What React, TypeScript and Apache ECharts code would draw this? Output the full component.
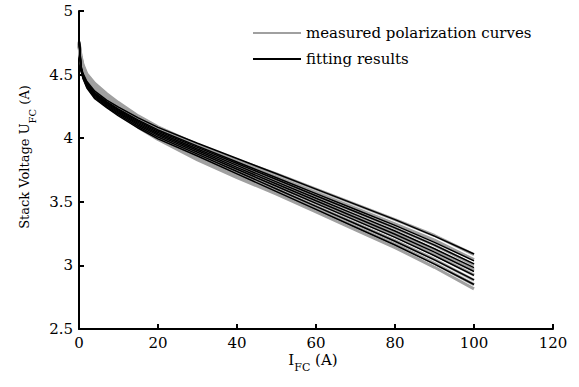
import React, { useEffect, useRef } from "react";
import * as echarts from "echarts";

// Current sample points (A)
const currents = [0, 0.5, 1, 2, 4, 7, 10, 15, 20, 30, 40, 50, 60, 70, 80, 90, 100];

// Measured polarization curves (V)
const measured1 = [4.76, 4.65, 4.58, 4.505, 4.43, 4.35, 4.28, 4.175, 4.09, 3.95, 3.83, 3.72, 3.6, 3.48, 3.36, 3.235, 3.085];
const measured2 = [4.754, 4.641, 4.571, 4.495, 4.418, 4.338, 4.268, 4.162, 4.075, 3.932, 3.809, 3.696, 3.573, 3.45, 3.327, 3.198, 3.045];
const measured3 = [4.748, 4.632, 4.562, 4.484, 4.406, 4.326, 4.256, 4.148, 4.06, 3.914, 3.788, 3.672, 3.546, 3.42, 3.294, 3.16, 3.004];
const measured4 = [4.742, 4.623, 4.553, 4.474, 4.394, 4.314, 4.244, 4.135, 4.045, 3.896, 3.767, 3.648, 3.519, 3.39, 3.261, 3.123, 2.964];
const measured5 = [4.736, 4.614, 4.544, 4.463, 4.382, 4.302, 4.232, 4.121, 4.03, 3.878, 3.746, 3.624, 3.492, 3.36, 3.228, 3.085, 2.923];
const measured6 = [4.73, 4.605, 4.535, 4.453, 4.37, 4.29, 4.22, 4.108, 4.015, 3.86, 3.725, 3.6, 3.465, 3.33, 3.195, 3.048, 2.883];
const measured7 = [4.725, 4.598, 4.528, 4.444, 4.36, 4.28, 4.21, 4.096, 4.003, 3.845, 3.708, 3.58, 3.443, 3.305, 3.168, 3.016, 2.849];
const measured8 = [4.72, 4.59, 4.52, 4.435, 4.35, 4.27, 4.2, 4.085, 3.99, 3.83, 3.69, 3.56, 3.42, 3.28, 3.14, 2.985, 2.815];

// Fitting results (V)
const fitted1 = [4.8, 4.57, 4.51, 4.445, 4.37, 4.3, 4.245, 4.16, 4.085, 3.96, 3.84, 3.72, 3.6, 3.48, 3.36, 3.23, 3.09];
const fitted2 = [4.795, 4.561, 4.501, 4.434, 4.357, 4.287, 4.229, 4.142, 4.065, 3.938, 3.813, 3.689, 3.564, 3.44, 3.315, 3.181, 3.036];
const fitted3 = [4.794, 4.557, 4.497, 4.429, 4.351, 4.281, 4.222, 4.134, 4.056, 3.928, 3.801, 3.675, 3.548, 3.422, 3.295, 3.159, 3.012];
const fitted4 = [4.791, 4.552, 4.492, 4.423, 4.343, 4.273, 4.214, 4.124, 4.045, 3.915, 3.786, 3.657, 3.528, 3.399, 3.27, 3.131, 2.982];
const fitted5 = [4.789, 4.547, 4.487, 4.416, 4.336, 4.266, 4.205, 4.114, 4.033, 3.903, 3.771, 3.64, 3.508, 3.377, 3.245, 3.104, 2.952];
const fitted6 = [4.786, 4.542, 4.482, 4.41, 4.328, 4.258, 4.196, 4.104, 4.022, 3.89, 3.756, 3.622, 3.488, 3.354, 3.22, 3.076, 2.922];
const fitted7 = [4.783, 4.536, 4.476, 4.403, 4.319, 4.249, 4.186, 4.092, 4.009, 3.875, 3.738, 3.601, 3.464, 3.327, 3.19, 3.043, 2.886];
const fitted8 = [4.78, 4.53, 4.47, 4.395, 4.31, 4.24, 4.175, 4.08, 3.995, 3.86, 3.72, 3.58, 3.44, 3.3, 3.16, 3.01, 2.85];

const measuredCurves = [measured1, measured2, measured3, measured4, measured5, measured6, measured7, measured8];
const fittedCurves = [fitted1, fitted2, fitted3, fitted4, fitted5, fitted6, fitted7, fitted8];

const measuredName = "measured polarization curves";
const fittedName = "fitting results";

const FONT = "DejaVu Serif";

export default function App() {
  const ref = useRef<HTMLDivElement>(null);

  useEffect(() => {
    if (!ref.current) return;
    const chart = echarts.init(ref.current, null, { renderer: "svg" });

    const toPairs = (vals: number[]) => currents.map((x, i) => [x, vals[i]]);

    const series: any[] = [];
    measuredCurves.forEach((c) => {
      series.push({
        name: measuredName,
        type: "line",
        data: toPairs(c),
        symbol: "none",
        lineStyle: { color: "#a0a0a0", width: 3 },
        itemStyle: { color: "#a0a0a0" },
        z: 2,
      });
    });
    fittedCurves.forEach((c) => {
      series.push({
        name: fittedName,
        type: "line",
        data: toPairs(c),
        symbol: "none",
        lineStyle: { color: "#000000", width: 1.5 },
        itemStyle: { color: "#000000" },
        z: 3,
      });
    });

    const richX = {
      a: { fontFamily: FONT, fontSize: 15, lineHeight: 14, verticalAlign: "top", fill: "#000", color: "#000" },
      b: { fontFamily: FONT, fontSize: 11, lineHeight: 12, verticalAlign: "top", padding: [10, 0, 0, 0], fill: "#000", color: "#000" },
    };
    const richY = {
      a: { fontFamily: FONT, fontSize: 13, lineHeight: 14, verticalAlign: "top", fill: "#000", color: "#000" },
      b: { fontFamily: FONT, fontSize: 10, lineHeight: 11, verticalAlign: "top", padding: [9, 0, 0, 0], fill: "#000", color: "#000" },
    };

    chart.setOption({
      animation: false,
      backgroundColor: "#ffffff",
      grid: { left: 79, right: 26, top: 11, bottom: 58, containLabel: false },
      legend: {
        data: [
          { name: measuredName, icon: "rect", itemStyle: { color: "#a0a0a0" } },
          { name: fittedName, icon: "rect", itemStyle: { color: "#000000" } },
        ],
        orient: "vertical",
        left: 253,
        top: 25,
        padding: 0,
        itemWidth: 48,
        itemHeight: 2,
        itemGap: 10,
        textStyle: { fontFamily: FONT, fontSize: 15, color: "#000", lineHeight: 16 },
        selectedMode: false,
      },
      xAxis: {
        type: "value",
        min: 0,
        max: 120,
        interval: 20,
        splitLine: { show: false },
        axisLine: { show: true, lineStyle: { color: "#000", width: 2 } },
        axisTick: { show: true, inside: true, length: 5, lineStyle: { color: "#000", width: 2 } },
        axisLabel: { fontFamily: FONT, fontSize: 15, color: "#000", margin: 7, lineHeight: 14 },
      },
      yAxis: {
        type: "value",
        min: 2.5,
        max: 5,
        interval: 0.5,
        splitLine: { show: false },
        axisLine: { show: true, lineStyle: { color: "#000", width: 2 } },
        axisTick: { show: true, inside: true, length: 5, lineStyle: { color: "#000", width: 2 } },
        axisLabel: { fontFamily: FONT, fontSize: 15, color: "#000", margin: 6 },
      },
      graphic: [
        {
          type: "text",
          x: 313,
          y: 352,
          style: {
            text: "{a|I}{b|FC}{a| (A)}",
            rich: richX,
            fill: "#000",
            align: "center",
            verticalAlign: "top",
          },
        },
        {
          type: "text",
          x: 18,
          y: 157,
          rotation: Math.PI / 2,
          style: {
            text: "{a|Stack Voltage U}{b|FC}{a| (A)}",
            rich: richY,
            fill: "#000",
            align: "center",
            verticalAlign: "top",
          },
        },
      ],
      series,
    });

    return () => chart.dispose();
  }, []);

  return (
    <div
      ref={ref}
      style={{ position: "fixed", left: 0, top: 0, width: 579, height: 387 }}
    />
  );
}
